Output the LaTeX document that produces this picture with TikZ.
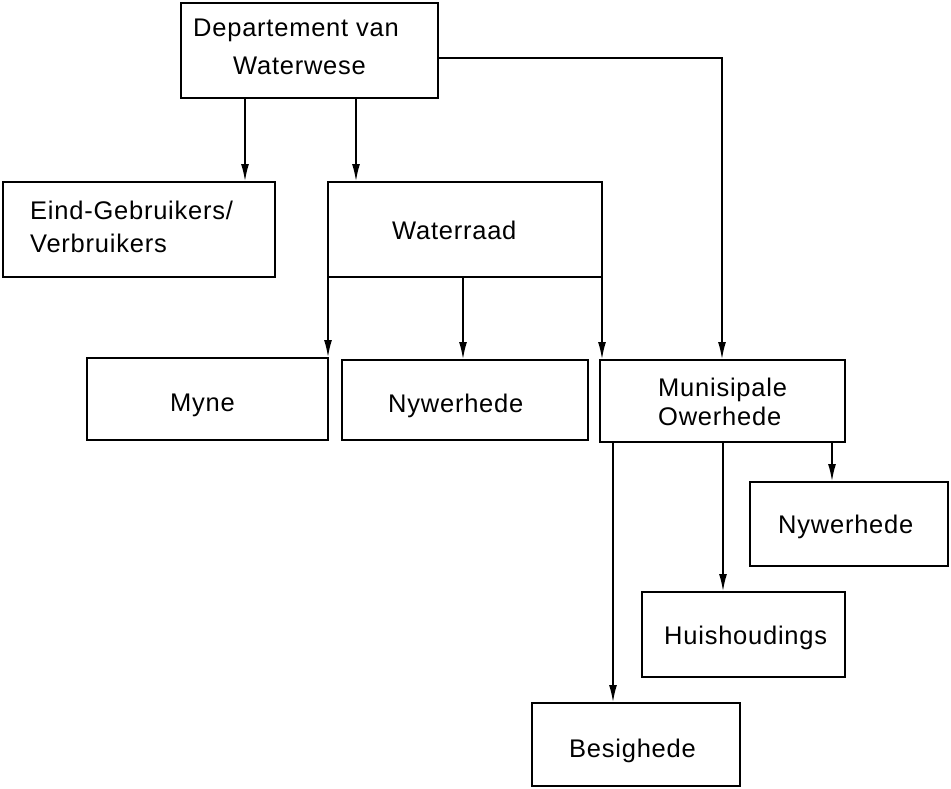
\documentclass[tikz,border=0pt]{standalone}
\usepackage{fontspec}
\setmainfont{Liberation Sans}[LetterSpace=3]
\usetikzlibrary{arrows.meta}
\begin{document}
\begin{tikzpicture}[x=1pt,y=-1pt,
  box/.style={draw, line width=2.4pt, inner sep=0pt, outer sep=0pt, anchor=north west},
  lbl/.style={anchor=base west, inner sep=0pt, font=\fontsize{25.5}{30}\selectfont},
  arr/.style={line width=2.2pt, -{Latex[length=18pt,width=8pt]}}]
\useasboundingbox[fill=white] (0,0) rectangle (951,788);
% boxes
\node[box, minimum width=257pt, minimum height=95pt] (dept)  at (181,3) {};
\node[box, minimum width=272pt, minimum height=95pt] (eind)  at (3,182) {};
\node[box, minimum width=274pt, minimum height=95pt] (raad)  at (328,182) {};
\node[box, minimum width=241pt, minimum height=82pt] (myne)  at (87,358) {};
\node[box, minimum width=246pt, minimum height=80pt] (nyw1)  at (342,360) {};
\node[box, minimum width=245pt, minimum height=82pt] (muni)  at (600,360) {};
\node[box, minimum width=198pt, minimum height=84pt] (nyw2)  at (750,482) {};
\node[box, minimum width=203pt, minimum height=85pt] (huis)  at (642,592) {};
\node[box, minimum width=208pt, minimum height=83pt] (besig) at (532,703) {};
% labels
\node[lbl] (t1a) at (193,36) {Departement van};
\node[lbl] (t1b) at (233,74) {Waterwese};
\node[lbl] (t2a) at (30,219) {Eind-Gebruikers/};
\node[lbl] (t2b) at (30,252) {Verbruikers};
\node[lbl] (t3)  at (392,239) {Waterraad};
\node[lbl] (t4)  at (170,411) {Myne};
\node[lbl] (t5)  at (388,412) {Nywerhede};
\node[lbl] (t6a) at (658,396) {Munisipale};
\node[lbl] (t6b) at (658,425) {Owerhede};
\node[lbl] (t7)  at (778,533) {Nywerhede};
\node[lbl] (t8)  at (664,644) {Huishoudings};
\node[lbl] (t9)  at (569,757) {Besighede};
% x positions of connectors
\coordinate (xa) at (245,0);
\coordinate (xb) at (356,0);
\coordinate (yc) at (0,58);
\coordinate (xd) at (722,0);
\coordinate (xe) at (463,0);
\coordinate (xf) at (613,0);
\coordinate (xg) at (723,0);
\coordinate (xh) at (832,0);
% connectors
\draw[arr] (dept.south -| xa) -- (eind.north -| xa);
\draw[arr] (dept.south -| xb) -- (raad.north -| xb);
\draw[arr] (dept.east |- yc) -| (muni.north -| xd);
\draw[arr] (raad.south west) -- (myne.north east);
\draw[arr] (raad.south -| xe) -- (nyw1.north -| xe);
\draw[arr] (raad.south east) -- (muni.north -| raad.south east);
\draw[arr] (muni.south -| xf) -- (besig.north -| xf);
\draw[arr] (muni.south -| xg) -- (huis.north -| xg);
\draw[arr] (muni.south -| xh) -- (nyw2.north -| xh);
\end{tikzpicture}
\end{document}
